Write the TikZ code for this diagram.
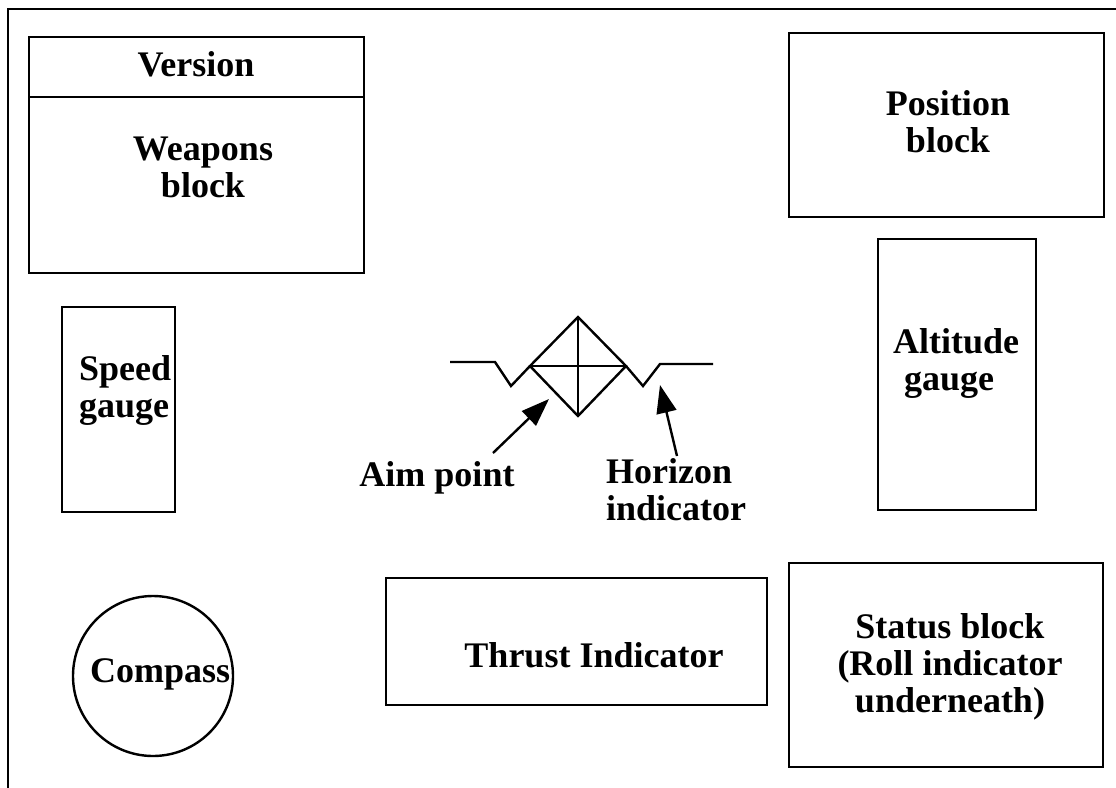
\documentclass[tikz,border=0pt]{standalone}
\usepackage{fontspec}
\setmainfont{Liberation Serif}
\usepackage{tikz}
\usetikzlibrary{arrows.meta}

\begin{document}
\begin{tikzpicture}[x=0.5pt, y=-0.5pt, line width=1.2pt,
    lbl/.style={font=\fontsize{18}{18.5}\selectfont\bfseries, inner sep=0pt},
    ptr/.style={-{Triangle[length=14pt, width=10pt]}}]
			\useasboundingbox (0,0) rectangle (1116,788);
			\draw (8,788) -- (8,9) -- (1116,9);

			% left column
			\draw (29,37) rectangle (364,273);
			\draw (29,97) -- (364,97);
			\node[lbl, anchor=base] (version) at (196,76) {Version};
			\node[lbl, align=center, anchor=north] (weapons) at (203,136) {Weapons\\block};

			\draw (62,307) rectangle (175,512);
			\node[lbl, align=left, anchor=north west] (speed) at (78,354) {Speed\\gauge};

			\draw (153,676) circle [radius=80];
			\node[lbl, anchor=base west] (compass) at (89,682) {Compass};

			% right column
			\draw (789,33) rectangle (1104,217);
			\node[lbl, align=center, anchor=north] (position) at (948,89) {Position\\block};

			\draw (878,239) rectangle (1036,510);
			\node[lbl, align=left, anchor=north west] (altitude) at (892,327) {Altitude\\\hspace*{0.3em}gauge};

			\draw (789,563) rectangle (1103,767);
			\node[lbl, align=center, anchor=north] (status) at (950,612) {Status block\\(Roll indicator\\underneath)};

			% bottom middle
			\draw (386,578) rectangle (767,705);
			\node[lbl, anchor=base] (thrust) at (594,667) {Thrust Indicator};

			% aim point and horizon
			\draw (530,366) -- (578,317) -- (626,366) -- (578,416) -- cycle;
			\draw (530,366) -- (626,366);
			\draw (578,317) -- (578,416);
			\draw (450,362) -- (495,362) -- (511,386) -- (530,366);
			\draw (626,366) -- (643,386) -- (660,364) -- (713,364);

			\node[lbl, anchor=base] (aimlbl) at (437,486) {Aim point};
			\node[lbl, align=left, anchor=north west] (horlbl) at (605,457) {Horizon\\indicator};

			\coordinate (aimtail) at (493,453);
			\coordinate (aimtip) at (549,399);
			\coordinate (hortail) at (677,456);
			\coordinate (hortip) at (660,385);
			\draw[ptr] (aimtail) -- (aimtip);
			\draw[ptr] (hortail) -- (hortip);
		\end{tikzpicture}
\end{document}
